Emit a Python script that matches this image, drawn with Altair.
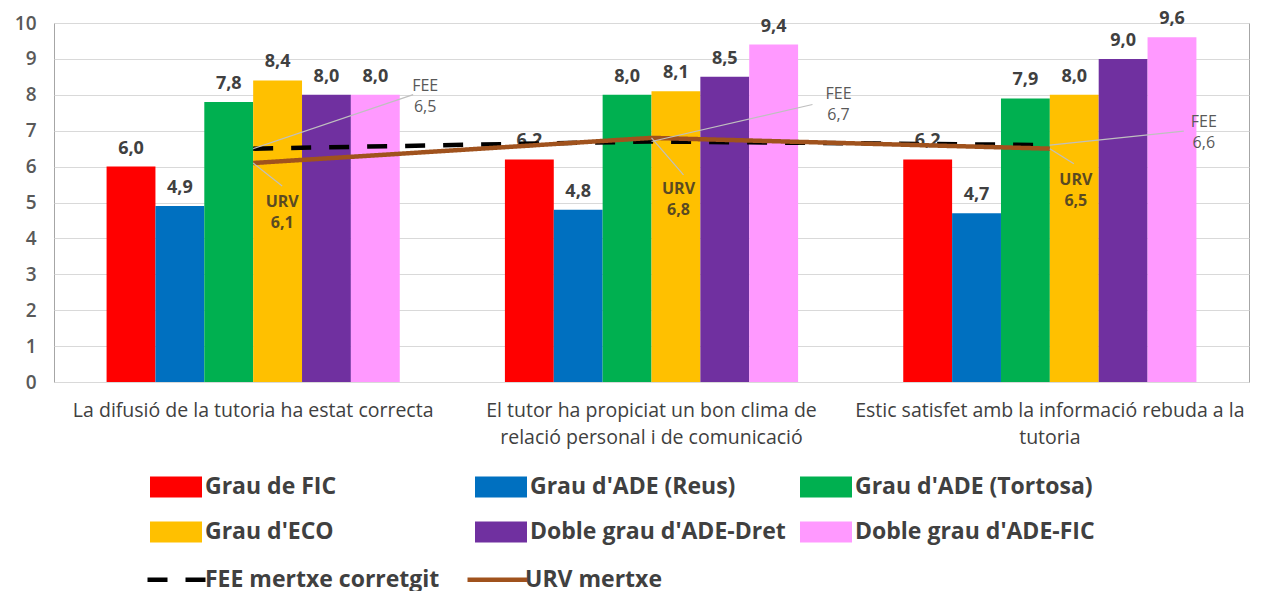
import altair as alt
import pandas as pd

# ---------------- data ----------------
categories = [
    "La difusió de la tutoria ha estat correcta",
    "El tutor ha propiciat un bon clima de relació personal i de comunicació",
    "Estic satisfet amb la informació rebuda a la tutoria",
]
category_lines = [
    ["La difusió de la tutoria ha estat correcta"],
    ["El tutor ha propiciat un bon clima de", "relació personal i de comunicació"],
    ["Estic satisfet amb la informació rebuda a la", "tutoria"],
]
series = ["Grau de FIC", "Grau d'ADE (Reus)", "Grau d'ADE (Tortosa)",
          "Grau d'ECO", "Doble grau d'ADE-Dret", "Doble grau d'ADE-FIC"]
grau_fic = [6.0, 6.2, 6.2]
grau_ade_reus = [4.9, 4.8, 4.7]
grau_ade_tortosa = [7.8, 8.0, 7.9]
grau_eco = [8.4, 8.1, 8.0]
doble_ade_dret = [8.0, 8.5, 9.0]
doble_ade_fic = [8.0, 9.4, 9.6]

line_names = ["FEE mertxe corretgit", "URV mertxe"]
line_prefix = ["FEE", "URV"]
fee_mertxe = [6.5, 6.7, 6.6]
urv_mertxe = [6.1, 6.8, 6.5]
y_ticks = [0, 1, 2, 3, 4, 5, 6, 7, 8, 9, 10]

# ---------------- styles ----------------
bar_colors = ["#FF0000", "#0070C0", "#00B050", "#FFC000", "#7030A0", "#FF99FF"]
line_colors = ["#000000", "#A0521D"]
FONT = "Open Sans"


def fmt(v):
    return f"{v:.1f}".replace(".", ",")


bar_series = [grau_fic, grau_ade_reus, grau_ade_tortosa, grau_eco, doble_ade_dret, doble_ade_fic]
bar_rows = []
for s, vals in zip(series, bar_series):
    for c, v in zip(categories, vals):
        bar_rows.append({"cat": c, "series": s, "value": v, "label": fmt(v)})
bars_df = pd.DataFrame(bar_rows)

line_rows = []
for n, p, vals in zip(line_names, line_prefix, [fee_mertxe, urv_mertxe]):
    for c, v in zip(categories, vals):
        line_rows.append({"cat": c, "name": n, "prefix": p, "value": v,
                          "callout": p + "\n" + fmt(v)})
lines_df = pd.DataFrame(line_rows)

# x axis multi-line labels
expr = "datum.label"
for c, ln in reversed(list(zip(categories, category_lines))):
    arr = "[" + ",".join("'" + t + "'" for t in ln) + "]"
    expr = f"datum.label == '{c}' ? {arr} : ({expr})"

x_scale = alt.Scale(domain=categories, paddingInner=0.264, paddingOuter=0.132)
y_scale = alt.Scale(domain=[0, 10], nice=False)

x_axis = alt.Axis(title=None, labelAngle=0, ticks=False, domain=False,
                  labelPadding=19, labelFontSize=19.5, labelColor="#404040",
                  labelFont=FONT, labelLineHeight=27, labelLimit=600,
                  labelExpr=expr, grid=False)
y_axis = alt.Axis(title=None, values=y_ticks, labelOverlap=False,
                  ticks=False, domain=False, labelPadding=18, labelFontSize=19,
                  labelColor="#595959", labelFont=FONT, labelFontWeight=600,
                  gridColor="#D9D9D9", grid=True)


def xe(**kw):
    return alt.X("cat:N", sort=categories, scale=x_scale, axis=x_axis, **kw)


def ye():
    return alt.Y("value:Q", scale=y_scale, axis=y_axis)


off_enc = alt.XOffset("series:N", sort=series,
                      scale=alt.Scale(domain=series, paddingInner=0, paddingOuter=0))

rect_path = "M-2,-0.8H2V0.8H-2Z"
line_path = "M-2,0H2"

bars = alt.Chart(bars_df).mark_bar().encode(
    x=xe(),
    xOffset=off_enc,
    y=ye(),
    color=alt.Color("series:N", sort=series,
                    scale=alt.Scale(domain=series, range=bar_colors),
                    legend=alt.Legend(title=None, orient="none", legendX=109, legendY=451,
                                      direction="horizontal",
                                      columns=3, gridAlign="all", columnPadding=14,
                                      rowPadding=20, symbolType=rect_path,
                                      symbolSize=676, symbolStrokeWidth=0,
                                      labelFont=FONT, labelFontSize=23,
                                      labelFontWeight="bold", labelColor="#404040",
                                      labelOffset=16, labelLimit=400)),
)

bar_labels = alt.Chart(bars_df).mark_text(
    baseline="alphabetic", dy=-13, font=FONT, fontSize=18, fontWeight="bold",
    color="#404040"
).encode(x=xe(), xOffset=off_enc, y=ye(), text="label:N")

line_legend = alt.Legend(title=None, orient="none", legendX=106, legendY=539,
                         direction="horizontal",
                         columns=2, gridAlign="all", columnPadding=18,
                         symbolType=line_path, symbolSize=900, symbolStrokeWidth=4.5,
                         labelFont=FONT, labelFontSize=23, labelFontWeight="bold",
                         labelColor="#404040", labelOffset=10, labelLimit=400)

lines = alt.Chart(lines_df).mark_line(strokeWidth=4.5).encode(
    x=xe(),
    y=ye(),
    stroke=alt.Stroke("name:N", sort=line_names,
                      scale=alt.Scale(domain=line_names, range=line_colors),
                      legend=line_legend),
    strokeDash=alt.StrokeDash("name:N", sort=line_names,
                              scale=alt.Scale(domain=line_names, range=[[20, 18], [1, 0]]),
                              legend=line_legend),
)

# callouts: (prefix, category index, text dx, text dy, leader dx, leader dy)
callout_specs = [
    ("FEE", 0, 172, -63, 160, -54),
    ("FEE", 1, 187, -47, 161, -37),
    ("FEE", 2, 154, -23, 134, -14),
    ("URV", 0, 29, 39, 29, 23),
    ("URV", 1, 27, 51, 32, 37),
    ("URV", 2, 26, 31, 24, 15),
]

callout_layers = []
for prefix, ci, tdx, tdy, ldx, ldy in callout_specs:
    flt = f"datum.prefix == '{prefix}' && datum.cat == '{categories[ci]}'"
    base = alt.Chart(lines_df).transform_filter(flt)
    leader = base.mark_rule(color="#BFBFBF", strokeWidth=1.2, x2Offset=ldx, y2Offset=ldy).encode(
        x=xe(bandPosition=0.5),
        x2=alt.X2("cat", bandPosition=0.5),
        y=ye(),
        y2="value",
    )
    is_fee = prefix == "FEE"
    txt = base.mark_text(
        dx=tdx, dy=tdy, align="center", baseline="middle", lineBreak="\n",
        lineHeight=21, font=FONT, fontSize=16,
        fontWeight="normal" if is_fee else "bold",
        color="#595959" if is_fee else "#5A4A22",
    ).encode(x=xe(), y=ye(), text="callout:N")
    callout_layers += [leader, txt]

chart = alt.layer(bars, bar_labels, lines, *callout_layers).resolve_scale(
    color="independent"
).properties(
    width=1195, height=359,
    padding={"left": 46, "top": 15, "right": 5, "bottom": 216},
    autosize=alt.AutoSizeParams(type="none"),
).configure_view(
    stroke="#A6A6A6", strokeWidth=1
).configure_legend(
    padding=0
).configure_axisY(
    values=y_ticks, labelOverlap=False, tickCount=11
)

chart.save("out.html", embed_options={"renderer": "svg", "actions": False})
